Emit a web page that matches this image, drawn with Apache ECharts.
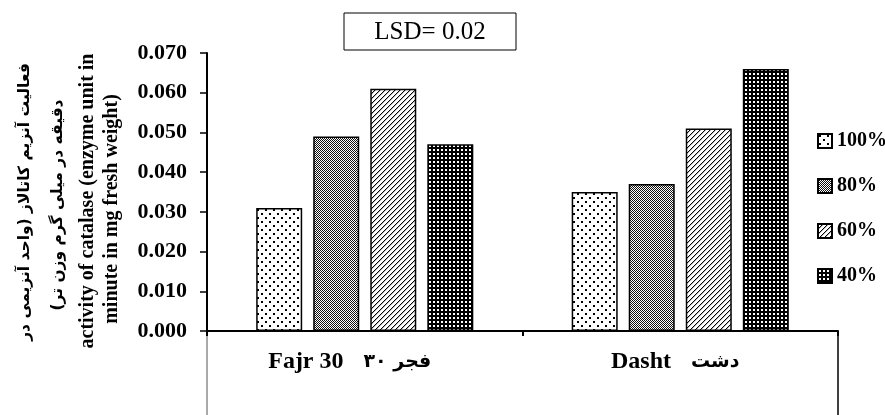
<!DOCTYPE html>
<html>
<head>
<meta charset="utf-8">
<script src="https://cdn.jsdelivr.net/npm/echarts@6/dist/echarts.min.js"></script>
<style>html,body{margin:0;padding:0;background:#fff}#c{width:885px;height:415px}</style>
</head>
<body>
<div id="c"></div>
<script>
// ---- data ----
const categoriesEn = ['Fajr 30', 'Dasht'];
const categoriesFa = ['فجر ۳۰', 'دشت'];
const seriesNames = ['100%', '80%', '60%', '40%'];
const values100 = [0.031, 0.035];
const values80 = [0.049, 0.037];
const values60 = [0.061, 0.051];
const values40 = [0.047, 0.066];
const yMin = 0, yMax = 0.07, yStep = 0.01;
const lsdText = 'LSD= 0.02';
const titleFa1 = 'فعالیت آنزیم کاتالاز (واحد آنزیمی در';
const titleFa2 = 'دقیقه در میلی گرم وزن تر)';
const titleEn1 = 'activity of catalase (enzyme unit in';
const titleEn2 = 'minute in mg fresh weight)';

// ---- patterns ----
function tile(size, draw) {
  const c = document.createElement('canvas');
  c.width = size; c.height = size;
  const ctx = c.getContext('2d');
  draw(ctx, size);
  return { image: c, repeat: 'repeat' };
}
const pat100 = tile(8, (x) => {
  x.fillStyle = '#fff'; x.fillRect(0, 0, 8, 8);
  x.fillStyle = '#000'; x.fillRect(1, 1, 2, 2); x.fillRect(5, 5, 2, 2);
});
const pat80 = tile(2, (x) => {
  x.fillStyle = '#fff'; x.fillRect(0, 0, 2, 2);
  x.fillStyle = '#111'; x.fillRect(0, 0, 1, 1); x.fillRect(1, 1, 1, 1);
});
const pat60 = tile(5, (x) => {
  x.fillStyle = '#fff'; x.fillRect(0, 0, 5, 5);
  x.fillStyle = '#000';
  for (let i = 0; i < 5; i++) { x.fillRect(i, 4 - i, 1, 1); }
  x.fillStyle = '#bbb';
  for (let i = 0; i < 5; i++) { x.fillRect((i + 1) % 5, 4 - i, 1, 1); }
});
const pat40 = tile(4, (x) => {
  x.fillStyle = '#000'; x.fillRect(0, 0, 4, 4);
  x.fillStyle = '#fff'; x.fillRect(1, 1, 2, 2);
});
const patterns = [pat100, pat80, pat60, pat40];
const allValues = [values100, values80, values60, values40];

const G = { left: 207, right: 47, top: 53, bottom: 84 };
const W = 885, H = 415;
const serif = '"Liberation Serif", "DejaVu Sans"';
const labelTailPad = [30, 10];

const chart = echarts.init(document.getElementById('c'), null, { renderer: 'canvas' });
const series = seriesNames.map((n, i) => ({
  name: n,
  type: 'bar',
  data: allValues[i],
  barWidth: 46,
  barGap: '24%',
  itemStyle: { color: patterns[i], borderColor: '#000', borderWidth: 1.5 },
  emphasis: { disabled: true }
}));

function rtl(s) { return '\u200F' + s + '\u200F'; }

chart.setOption({
  animation: false,
  backgroundColor: '#fff',
  grid: { left: G.left, right: G.right, top: G.top, bottom: G.bottom, containLabel: false },
  legend: {
    orient: 'vertical',
    left: 812, top: 126,
    itemWidth: 14, itemHeight: 14, itemGap: 25, itemTextGap: 8,
    icon: 'rect',
    selectedMode: false,
    textStyle: { fontFamily: serif, fontWeight: 'bold', fontSize: 20, color: '#000', lineHeight: 20 },
    data: seriesNames
  },
  xAxis: {
    type: 'category',
    data: categoriesEn,
    axisLine: { lineStyle: { color: '#000', width: 2 } },
    axisTick: { show: true, length: 5, lineStyle: { color: '#000', width: 2 } },
    axisLabel: {
      margin: 19, color: '#000', interval: 0,
      formatter: (v, i) => '{en|' + v + '}{sp|}{fa|' + categoriesFa[i] + '}{t' + i + '|}',
      rich: {
        en: { fontFamily: '"Liberation Serif"', fontWeight: 'bold', fontSize: 24, color: '#000' },
        sp: { padding: [0, 10, 0, 10] },
        fa: { fontFamily: '"DejaVu Sans"', fontWeight: 'bold', fontSize: 19, color: '#000' },
        t0: { padding: [0, labelTailPad[0], 0, 0] },
        t1: { padding: [0, labelTailPad[1], 0, 0] }
      }
    },
    splitLine: { show: false }
  },
  yAxis: {
    type: 'value',
    min: yMin, max: yMax, interval: yStep,
    axisLine: { show: true, lineStyle: { color: '#000', width: 2 } },
    axisTick: { show: true, length: 7, lineStyle: { color: '#000', width: 1.5 } },
    axisLabel: { margin: 20, color: '#000', fontFamily: serif, fontWeight: 'bold', fontSize: 22,
      formatter: (v) => v.toFixed(3) },
    splitLine: { show: false }
  },
  graphic: [
    { type: 'line', shape: { x1: G.left, y1: H - G.bottom, x2: G.left, y2: H }, style: { stroke: '#555', lineWidth: 1 } },
    { type: 'line', shape: { x1: W - G.right, y1: H - G.bottom, x2: W - G.right, y2: H }, style: { stroke: '#000', lineWidth: 1.5 } },
    { type: 'rect', shape: { x: 344, y: 13, width: 172, height: 37 }, style: { fill: '#fff', stroke: '#000', lineWidth: 1 } },
    { type: 'text', x: 430, y: 32, style: { text: lsdText, font: '25px "Liberation Serif"', fill: '#000', textAlign: 'center', align: 'center', textVerticalAlign: 'middle', verticalAlign: 'middle' } },
    { type: 'text', x: 25, y: 202, rotation: Math.PI / 2, style: { text: rtl(titleFa1), font: 'bold 15.5px "DejaVu Sans"', fill: '#000', textAlign: 'center', align: 'center', textVerticalAlign: 'middle', verticalAlign: 'middle' } },
    { type: 'text', x: 58, y: 205, rotation: Math.PI / 2, style: { text: rtl(titleFa2), font: 'bold 15.5px "DejaVu Sans"', fill: '#000', textAlign: 'center', align: 'center', textVerticalAlign: 'middle', verticalAlign: 'middle' } },
    { type: 'text', x: 88, y: 201, rotation: Math.PI / 2, style: { text: titleEn1, font: 'bold 20px "Liberation Serif"', fill: '#000', textAlign: 'center', align: 'center', textVerticalAlign: 'middle', verticalAlign: 'middle' } },
    { type: 'text', x: 112, y: 209, rotation: Math.PI / 2, style: { text: titleEn2, font: 'bold 20px "Liberation Serif"', fill: '#000', textAlign: 'center', align: 'center', textVerticalAlign: 'middle', verticalAlign: 'middle' } }
  ],
  series: series
});
</script>
</body>
</html>
